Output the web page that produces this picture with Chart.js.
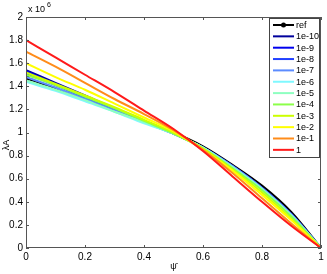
<!DOCTYPE html>
<html>
<head>
<meta charset="utf-8">
<script src="https://cdn.jsdelivr.net/npm/chart.js@4"></script>
<style>
  html, body { margin: 0; padding: 0; background: #fff; }
  #wrap { width: 327px; height: 274px; position: relative; }
</style>
</head>
<body>
<div id="wrap"><canvas id="chart"></canvas></div>
<script>
// psi values (x axis)
const psi = [0, 0.1, 0.2, 0.3, 0.4, 0.5, 0.6, 0.7, 0.8, 0.9, 1];

// lambda*A, in units of 1e6
const ref     = [1.47, 1.38, 1.28, 1.19, 1.09, 1.00, 0.88, 0.72, 0.54, 0.31, 0];
const s1e10   = [1.54, 1.43, 1.32, 1.21, 1.10, 0.99, 0.87, 0.71, 0.52, 0.29, 0];
const s1e9    = [1.53, 1.42, 1.31, 1.20, 1.10, 0.99, 0.87, 0.71, 0.52, 0.29, 0];
const s1e8    = [1.51, 1.41, 1.30, 1.20, 1.09, 0.99, 0.87, 0.71, 0.52, 0.29, 0];
const s1e7    = [1.48, 1.39, 1.29, 1.19, 1.09, 0.99, 0.87, 0.71, 0.52, 0.29, 0];
const s1e6    = [1.44, 1.36, 1.27, 1.18, 1.08, 0.99, 0.87, 0.70, 0.51, 0.28, 0];
const s1e5    = [1.45, 1.37, 1.28, 1.18, 1.09, 0.99, 0.87, 0.70, 0.51, 0.28, 0];
const s1e4    = [1.50, 1.41, 1.31, 1.21, 1.10, 0.99, 0.86, 0.69, 0.50, 0.27, 0];
const s1e3    = [1.52, 1.42, 1.32, 1.22, 1.11, 1.00, 0.86, 0.68, 0.48, 0.25, 0];
const s1e2    = [1.60, 1.48, 1.37, 1.25, 1.13, 1.01, 0.85, 0.67, 0.46, 0.24, 0];
const s1e1    = [1.70, 1.57, 1.43, 1.29, 1.16, 1.02, 0.85, 0.65, 0.43, 0.21, 0];
const s1      = [1.80, 1.65, 1.50, 1.35, 1.19, 1.03, 0.84, 0.62, 0.40, 0.19, 0];

const labels = ['1e-10', '1e-9', '1e-8', '1e-7', '1e-6', '1e-5', '1e-4', '1e-3', '1e-2', '1e-1', '1'];
const series = [s1e10, s1e9, s1e8, s1e7, s1e6, s1e5, s1e4, s1e3, s1e2, s1e1, s1];
const colors = ['#00009c', '#0000ee', '#2040ff', '#5c8cff', '#7ff8ff', '#8effc0',
                '#8cff4a', '#ccff00', '#ffff00', '#ff8c1a', '#ff1a1a'];

const xTicks = [0, 0.2, 0.4, 0.6, 0.8, 1];
const yTicks = [0, 0.2, 0.4, 0.6, 0.8, 1, 1.2, 1.4, 1.6, 1.8, 2];

const FONT = '"Liberation Sans", Arial, Helvetica, sans-serif';

const toXY = arr => arr.map((v, i) => ({ x: psi[i], y: v }));

const datasets = [{
    label: 'ref',
    data: toXY(ref),
    borderColor: '#000',
    backgroundColor: '#000',
    borderWidth: 2,
    pointRadius: ref.map((_, i) => (i === 0 || i === ref.length - 1) ? 2.5 : 0),
    pointBorderColor: '#000',
    pointBackgroundColor: '#000',
    cubicInterpolationMode: 'monotone',
    order: 20
}].concat(series.map((s, i) => ({
    label: labels[i],
    data: toXY(s),
    borderColor: colors[i],
    borderWidth: 2,
    pointRadius: 0,
    cubicInterpolationMode: 'monotone',
    order: 11 - i
})));

// MATLAB-like box, inward ticks, exponent, axis labels and legend
const matlabFrame = {
    id: 'matlabFrame',
    afterDraw(chart) {
        const { ctx, chartArea: a, scales: { x, y } } = chart;
        ctx.save();
        ctx.strokeStyle = '#555';
        ctx.lineWidth = 1;
        ctx.strokeRect(a.left + 0.5, a.top + 0.5, a.right - a.left - 1, a.bottom - a.top - 1);
        ctx.beginPath();
        xTicks.forEach(t => {
            const px = Math.round(x.getPixelForValue(t)) + 0.5;
            ctx.moveTo(px, a.bottom); ctx.lineTo(px, a.bottom - 3);
            ctx.moveTo(px, a.top); ctx.lineTo(px, a.top + 3);
        });
        yTicks.forEach(t => {
            const py = Math.round(y.getPixelForValue(t)) + 0.5;
            ctx.moveTo(a.left, py); ctx.lineTo(a.left + 3, py);
            ctx.moveTo(a.right, py); ctx.lineTo(a.right - 3, py);
        });
        ctx.stroke();

        ctx.fillStyle = '#000';
        ctx.font = '9px ' + FONT;
        ctx.textBaseline = 'alphabetic';
        ctx.textAlign = 'left';
        ctx.fillText('x 10', a.left + 2, 12);
        ctx.font = '7px ' + FONT;
        ctx.fillText('6', a.left + 21, 7);

        ctx.font = '9px ' + FONT;
        ctx.textAlign = 'center';
        ctx.fillText('\u03C8\u0304', (a.left + a.right) / 2, 269);
        ctx.save();
        ctx.translate(9, 145);
        ctx.rotate(-Math.PI / 2);
        ctx.fillText('\u03BBA', 0, 0);
        ctx.restore();

        // legend
        const lx = 269, ly = 18, lw = 50, lh = 139, step = 11.35;
        ctx.fillStyle = '#fff';
        ctx.fillRect(lx, ly, lw, lh);
        ctx.strokeStyle = '#444';
        ctx.lineWidth = 1;
        ctx.strokeRect(lx + 0.5, ly + 0.5, lw, lh);
        ctx.font = '9px ' + FONT;
        ctx.textAlign = 'left';
        ctx.textBaseline = 'middle';
        chart.data.datasets.forEach((ds, i) => {
            const yy = ly + 7 + i * step;
            ctx.strokeStyle = ds.borderColor;
            ctx.lineWidth = 2;
            ctx.beginPath();
            ctx.moveTo(lx + 4, yy); ctx.lineTo(lx + 25, yy);
            ctx.stroke();
            if (i === 0) {
                ctx.fillStyle = '#000';
                ctx.beginPath();
                ctx.arc(lx + 14.5, yy, 2.5, 0, Math.PI * 2);
                ctx.fill();
            }
            ctx.fillStyle = '#000';
            ctx.fillText(ds.label, lx + 27, yy + 0.5);
        });
        ctx.restore();
    }
};

new Chart(document.getElementById('chart'), {
    type: 'line',
    data: { datasets },
    plugins: [matlabFrame],
    options: {
        responsive: true,
        maintainAspectRatio: false,
        animation: false,
        layout: { padding: { top: 17, right: 6, left: 0, bottom: 0 } },
        plugins: { legend: { display: false }, tooltip: { enabled: false } },
        scales: {
            x: {
                type: 'linear', min: 0, max: 1,
                afterFit: s => { s.height = 26; },
                afterBuildTicks: s => { s.ticks = xTicks.map(v => ({ value: v })); },
                grid: { display: false, drawTicks: false, tickLength: 0 },
                border: { display: false },
                ticks: { font: { family: FONT, size: 10 }, color: '#000', padding: 3, maxRotation: 0,
                         callback: v => String(v) }
            },
            y: {
                type: 'linear', min: 0, max: 2,
                afterFit: s => { s.width = 26; },
                afterBuildTicks: s => { s.ticks = yTicks.map(v => ({ value: v })); },
                grid: { display: false, drawTicks: false, tickLength: 0 },
                border: { display: false },
                ticks: { font: { family: FONT, size: 10 }, color: '#000', padding: 3,
                         callback: v => String(Math.round(v * 10) / 10) }
            }
        }
    }
});
</script>
</body>
</html>
